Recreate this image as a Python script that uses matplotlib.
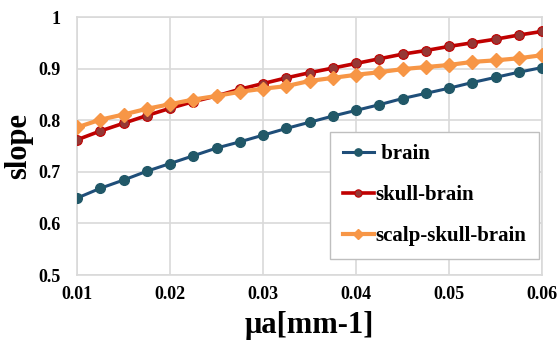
import matplotlib
matplotlib.use("Agg")
import matplotlib.pyplot as plt
from matplotlib.ticker import FuncFormatter

plt.rcParams["font.family"] = ["Liberation Serif", "DejaVu Serif"]
plt.rcParams["font.weight"] = "bold"

mua = [0.01, 0.0125, 0.015, 0.0175, 0.02, 0.0225, 0.025, 0.0275, 0.03, 0.0325, 0.035,
       0.0375, 0.04, 0.0425, 0.045, 0.0475, 0.05, 0.0525, 0.055, 0.0575, 0.06]
brain = [0.649, 0.668, 0.684, 0.701, 0.716, 0.731, 0.746, 0.758, 0.771, 0.784, 0.796,
         0.808, 0.819, 0.830, 0.842, 0.852, 0.862, 0.873, 0.883, 0.893, 0.902]
skull_brain = [0.762, 0.779, 0.794, 0.809, 0.823, 0.836, 0.847, 0.860, 0.871, 0.882, 0.892,
               0.901, 0.910, 0.919, 0.928, 0.935, 0.943, 0.950, 0.957, 0.965, 0.972]
scalp_skull_brain = [0.786, 0.801, 0.811, 0.822, 0.831, 0.840, 0.847, 0.855, 0.861, 0.866, 0.876,
                     0.882, 0.888, 0.893, 0.899, 0.903, 0.907, 0.913, 0.916, 0.920, 0.926]

x_ticks = [0.01, 0.02, 0.03, 0.04, 0.05, 0.06]
y_ticks = [0.5, 0.6, 0.7, 0.8, 0.9, 1.0]

fig = plt.figure(figsize=(5.57, 3.40), dpi=100)
ax = fig.add_axes([77 / 557, 65 / 340, 465 / 557, 258 / 340])

ax.plot(mua, brain, color="#1F4E79", lw=2.2, marker="o", ms=7,
        mfc="#215868", mec="#215868", label=" brain", zorder=3)
ax.plot(mua, skull_brain, color="#C00000", lw=2.6, marker="o", ms=7,
        mfc="#953735", mec="#C00000", mew=0.8, label="skull-brain", zorder=4)
ax.plot(mua, scalp_skull_brain, color="#F79646", lw=3.0, marker="D", ms=7,
        mfc="#F79646", mec="#F79646", label="scalp-skull-brain", zorder=5)

ax.set_xlim(0.01, 0.06)
ax.set_ylim(0.5, 1.0)
ax.set_xticks(x_ticks)
ax.set_yticks(y_ticks)
ax.yaxis.set_major_formatter(FuncFormatter(lambda v, p: "1" if v == 1 else f"{v:.1f}"))
ax.tick_params(axis="x", length=0, labelsize=13, pad=8)
ax.tick_params(axis="y", length=0, labelsize=13, pad=12)
for lab in ax.get_xticklabels() + ax.get_yticklabels():
    lab.set_fontweight("bold")
ax.grid(True, color="#D9D9D9", lw=1.2)
ax.set_axisbelow(True)
for s in ax.spines.values():
    s.set_color("#D9D9D9")
    s.set_linewidth(1.2)

ax.set_xlabel("μa[mm-1]", fontsize=22, fontweight="bold", labelpad=6)
ax.set_ylabel("slope", fontsize=22, fontweight="bold")
ax.yaxis.set_label_coords((33 - 77) / 465, 0.5)

leg = ax.legend(loc="upper left", bbox_to_anchor=(330 / 557, (340 - 132) / 340),
                bbox_transform=fig.transFigure, fontsize=15, frameon=True, fancybox=False,
                edgecolor="#BFBFBF", framealpha=1, borderpad=0.6, labelspacing=1.0,
                handlelength=1.5, handletextpad=0.1, markerscale=0.75, borderaxespad=0)
leg.get_frame().set_linewidth(1.0)
for t in leg.get_texts():
    t.set_fontweight("bold")

fig.savefig("out.png", dpi=100)
